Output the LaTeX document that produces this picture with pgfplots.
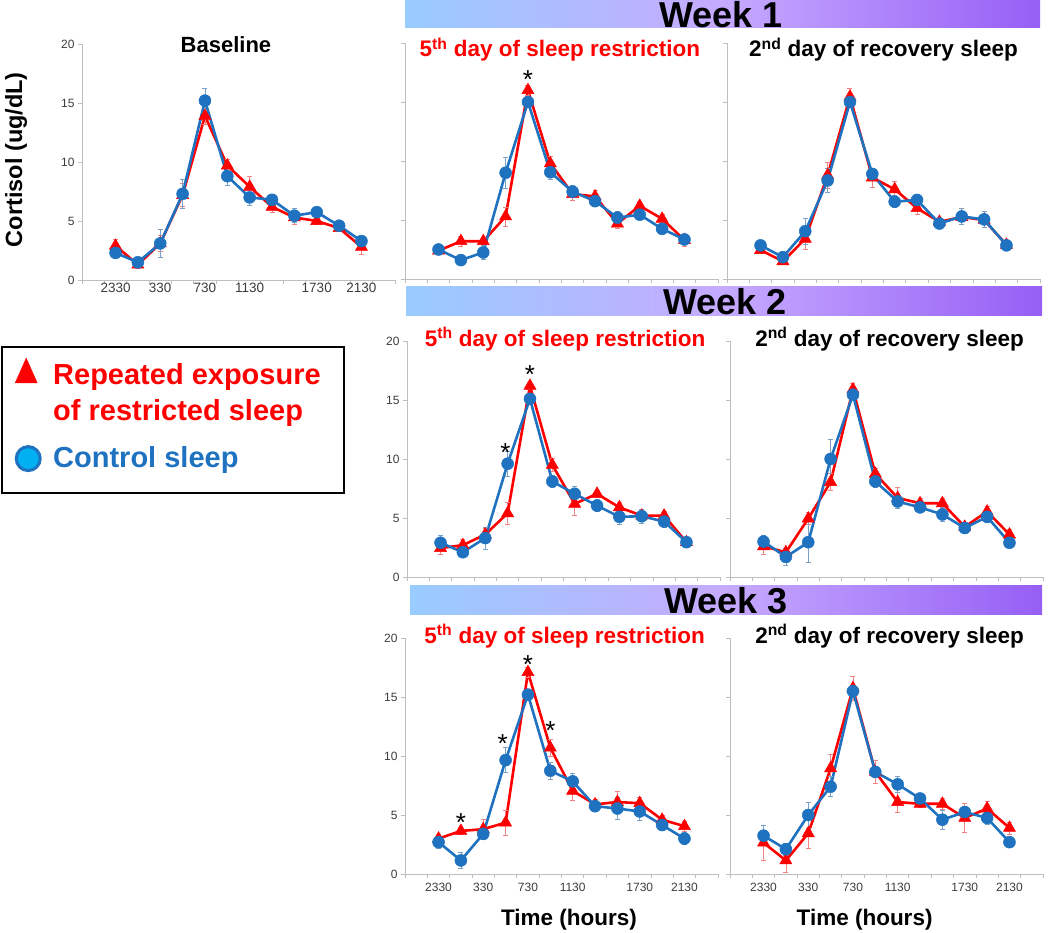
\documentclass[border=0pt]{standalone}
\usepackage{fontspec}
\setmainfont{Liberation Sans}
\usepackage{graphicx}
\usepackage{pgfplots}
\pgfplotsset{compat=1.18}
\usepackage{pgfplotstable}
\definecolor{redc}{RGB}{255,0,0}
\definecolor{bluec}{RGB}{30,114,192}
\definecolor{rederr}{RGB}{240,130,130}
\definecolor{blueerr}{RGB}{120,160,200}
\definecolor{axgray}{RGB}{190,190,190}
\definecolor{tlgray}{RGB}{60,60,60}
\definecolor{bannerL}{RGB}{153,204,255}
\definecolor{bannerM}{RGB}{198,170,255}
\definecolor{bannerR}{RGB}{150,95,245}
\definecolor{legcyan}{RGB}{0,176,240}

\pgfplotstableread{
x r re b be
1 2.9 0.55 2.3 0.3
2 1.3 0.3 1.5 0.2
3 3.1 0.7 3.1 1.2
4 7.2 1.0 7.3 1.2
5 13.9 0.7 15.2 1.0
6 9.7 0.5 8.8 0.8
7 7.9 0.9 7.0 0.7
8 6.2 0.5 6.8 0.3
9 5.3 0.6 5.45 0.6
10 5.0 0.3 5.75 0.3
11 4.4 0.3 4.6 0.3
12 2.8 0.6 3.3 0.4
}\tbase
\pgfplotstableread{
x r re b be
1 2.4 0.3 2.5 0.3
2 3.2 0.4 1.6 0.4
3 3.2 0.3 2.25 0.6
4 5.3 0.8 9.0 1.3
5 16.0 0.4 15.0 0.3
6 9.8 0.6 9.05 0.6
7 7.2 0.5 7.4 0.5
8 7.0 0.5 6.6 0.4
9 4.7 0.4 5.2 0.5
10 6.2 0.4 5.45 0.4
11 5.1 0.4 4.25 0.4
12 3.3 0.5 3.35 0.4
}\twar
\pgfplotstableread{
x r re b be
1 2.45 0.3 2.85 0.3
2 1.5 0.3 1.85 0.3
3 3.4 0.85 4.05 1.1
4 8.8 1.1 8.35 1.0
5 15.45 0.7 15.0 0.3
6 8.6 0.8 8.9 0.5
7 7.6 0.7 6.55 0.5
8 6.0 0.5 6.7 0.3
9 4.85 0.3 4.7 0.3
10 5.25 0.3 5.3 0.7
11 5.0 0.4 5.05 0.7
12 2.9 0.4 2.85 0.3
}\twarec
\pgfplotstableread{
x r re b be
1 2.45 0.5 2.9 0.6
2 2.7 0.5 2.1 0.3
3 3.6 0.5 3.3 0.95
4 5.4 0.9 9.6 1.05
5 16.2 0.3 15.1 0.3
6 9.5 0.55 8.1 0.5
7 6.2 1.0 7.05 0.6
8 7.05 0.3 6.05 0.5
9 5.9 0.4 5.1 0.6
10 5.2 0.4 5.15 0.6
11 5.2 0.4 4.7 0.5
12 2.95 0.3 2.95 0.3
}\twbr
\pgfplotstableread{
x r re b be
1 2.6 0.7 3.0 0.5
2 2.1 0.3 1.7 0.75
3 4.95 0.5 2.95 1.75
4 8.05 0.7 10.0 1.7
5 15.9 0.5 15.45 0.3
6 8.75 0.5 8.1 0.5
7 6.7 0.9 6.4 0.6
8 6.25 0.4 5.9 0.3
9 6.25 0.4 5.3 0.6
10 4.25 0.4 4.15 0.4
11 5.55 0.4 5.1 0.5
12 3.6 0.4 2.9 0.3
}\twbrec
\pgfplotstableread{
x r re b be
1 3.0 0.4 2.7 0.5
2 3.65 0.3 1.15 0.7
3 3.8 0.8 3.4 0.5
4 4.35 1.05 9.65 1.05
5 17.1 0.4 15.2 0.3
6 10.7 0.7 8.75 0.7
7 7.05 0.8 7.85 0.7
8 5.9 0.4 5.75 0.4
9 6.1 0.9 5.55 0.95
10 6.0 0.5 5.3 0.77
11 4.6 0.4 4.15 0.4
12 4.05 0.4 3.0 0.5
}\twcr
\pgfplotstableread{
x r re b be
1 2.65 1.5 3.25 0.85
2 1.15 1.0 2.1 0.5
3 3.45 1.3 5.0 1.1
4 8.95 1.15 7.4 0.85
5 15.75 1.0 15.5 0.3
6 8.65 1.0 8.65 0.5
7 6.1 0.85 7.6 0.7
8 5.95 0.3 6.4 0.4
9 5.95 0.5 4.6 0.8
10 4.75 1.2 5.25 0.5
11 5.55 0.6 4.75 0.5
12 3.9 0.5 2.7 0.3
}\twcrec

\pgfplotsset{
 panel/.style={
   scale only axis, width=313pt, height=236pt, anchor=south west,
   xmin=-0.5, xmax=13.5, ymin=0, ymax=20,
   axis lines=left, axis line style={-, draw=axgray, line width=0.8pt},
   xtick={-0.5,0.5,...,13.5}, xticklabels={},
   ytick={0,5,10,15,20},
   tick align=outside, major tick length=4pt,
   tick style={draw=axgray, line width=0.8pt},
   yticklabel style={font=\fontsize{12}{12}\selectfont, text=tlgray},
   /pgf/number format/assume math mode=true,
   clip=false,
   every axis title shift=0pt,
   title style={font=\fontsize{22.5}{22.5}\selectfont\bfseries, anchor=base},
 },
 xlab/.style 2 args={extra x ticks={1,3,5,7,10,12},
   extra x tick labels={2330,330,730,1130,1730,2130},
   extra x tick style={major tick length=0pt,
     xticklabel style={yshift=#1, font=\fontsize{#2}{#2}\selectfont, text=tlgray}}},
 noylab/.style={yticklabels={}},
 redser/.style={forget plot, draw=redc, line width=2.6pt, mark=triangle*, mark size=7pt,
   mark options={fill=redc, draw=redc, line width=0.5pt},
   error bars/y dir=both, error bars/y explicit,
   error bars/error bar style={draw=rederr, line width=0.7pt},
   error bars/error mark options={rotate=90, draw=rederr, line width=0.7pt, mark size=2.5pt}},
 bluser/.style={forget plot, draw=bluec, line width=2.6pt, mark=*, mark size=6pt,
   mark options={fill=bluec, draw=bluec, line width=0.5pt},
   error bars/y dir=both, error bars/y explicit,
   error bars/error bar style={draw=blueerr, line width=0.7pt},
   error bars/error mark options={rotate=90, draw=blueerr, line width=0.7pt, mark size=2.5pt}},
 star/.style={forget plot, draw=none, nodes near coords={*},
   every node near coord/.append style={anchor=base, inner sep=0pt,
     font=\fontsize{26}{26}\selectfont, text=black}},
}
\newcommand{\series}[1]{%
  \addplot[redser] table[x=x, y=r, y error=re] {#1};
  \addplot[bluser] table[x=x, y=b, y error=be] {#1};
}
\newcommand{\restr}{\textcolor{redc}{5\textsuperscript{th} day of sleep restriction}}
\newcommand{\recov}{2\textsuperscript{nd} day of recovery sleep}

\begin{document}
\begin{tikzpicture}
\path[use as bounding box] (0pt,0pt) rectangle (1050pt,-933pt);

% banners
\shade[left color=bannerL, right color=bannerR, middle color=bannerM] (405pt,0pt) rectangle (1040pt,-28pt);
\shade[left color=bannerL, right color=bannerR, middle color=bannerM] (406pt,-287pt) rectangle (1042pt,-316pt);
\shade[left color=bannerL, right color=bannerR, middle color=bannerM] (410pt,-585pt) rectangle (1042pt,-614pt);
\node[anchor=base, inner sep=0pt] at (721pt,-28pt) {\fontsize{36}{36}\selectfont\bfseries Week 1};
\node[anchor=base, inner sep=0pt] at (725pt,-315pt) {\fontsize{36}{36}\selectfont\bfseries Week 2};
\node[anchor=base, inner sep=0pt] at (726pt,-613pt) {\fontsize{36}{36}\selectfont\bfseries Week 3};

% legend frame
\draw[line width=2pt] (2pt,-347pt) rectangle (344pt,-493pt);

% Baseline
\begin{axis}[panel, at={(82pt,-280pt)}, xlab={0pt}{13.5},
  title={Baseline}, title style={at={(0.46,1)}, yshift=-8pt, font=\fontsize{22}{22}\selectfont\bfseries},
  ylabel={Cortisol (ug/dL)},
  ylabel style={at={(rel axis cs:-0.246,0.51)}, anchor=north, inner sep=0pt, font=\fontsize{23.5}{23.5}\selectfont\bfseries},
  legend style={at={(rel axis cs:-0.214,-0.33)}, anchor=north west, draw=none, fill=none, inner sep=0pt,
     row sep=10pt, column sep=11pt, font=\fontsize{29}{34}\selectfont\bfseries, cells={anchor=base west}},
  legend cell align=left]
\addlegendimage{only marks, mark=triangle*, mark size=12.7pt, mark options={fill=redc, draw=redc, yscale=1.3}}
\addlegendentry{\textcolor{redc}{Repeated exposure}}
\addlegendimage{empty legend}
\addlegendentry{\textcolor{redc}{of restricted sleep}}
\addlegendimage{only marks, mark=*, mark size=12pt, mark options={fill=legcyan, draw=bluec, line width=3pt, yshift=-6pt, xshift=2pt}}
\addlegendentry{\textcolor{bluec}{\rule{0pt}{31pt}Control sleep}}
\series{\tbase}
\end{axis}

% Week 1 restriction
\begin{axis}[panel, at={(405pt,-279pt)}, noylab,
  title={\restr}, title style={at={(0.495,1)}, yshift=-14pt}]
\series{\twar}
\addplot[star] coordinates {(5,16.18)};
\end{axis}

% Week 1 recovery
\begin{axis}[panel, at={(727pt,-279pt)}, noylab,
  title={\recov}, title style={at={(0.50,1)}, yshift=-14pt}]
\series{\twarec}
\end{axis}

% Week 2 restriction
\begin{axis}[panel, at={(407pt,-577pt)},
  title={\restr}, title style={at={(0.505,1)}, yshift=-5pt}]
\series{\twbr}
\addplot[star] coordinates {(3.9,9.8) (5,16.43)};
\end{axis}

% Week 2 recovery
\begin{axis}[panel, at={(730pt,-577pt)}, noylab,
  title={\recov}, title style={at={(0.51,1)}, yshift=-5pt}]
\series{\twbrec}
\end{axis}

% Week 3 restriction
\begin{axis}[panel, at={(405pt,-874pt)}, xlab={-6pt}{12},
  title={\restr}, title style={at={(0.51,1)}, yshift=-5pt},
  xlabel={Time (hours)},
  xlabel style={at={(rel axis cs:0.524,0)}, anchor=base, yshift=-51pt, inner sep=0pt, font=\fontsize{22.5}{22.5}\selectfont\bfseries}]
\series{\twcr}
\addplot[star] coordinates {(2,3.6) (3.87,10.27) (5,17.0) (6,11.36)};
\end{axis}

% Week 3 recovery
\begin{axis}[panel, at={(730pt,-874pt)}, noylab, xlab={-6pt}{12},
  title={\recov}, title style={at={(0.51,1)}, yshift=-5pt},
  xlabel={Time (hours)},
  xlabel style={at={(rel axis cs:0.43,0)}, anchor=base, yshift=-51pt, inner sep=0pt, font=\fontsize{22.5}{22.5}\selectfont\bfseries}]
\series{\twcrec}
\end{axis}
\end{tikzpicture}
\end{document}
